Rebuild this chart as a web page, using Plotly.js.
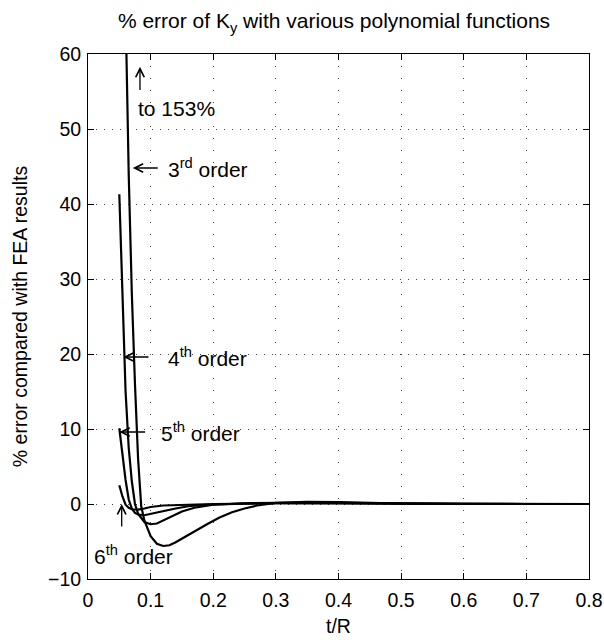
<!DOCTYPE html>
<html>
<head>
<meta charset="utf-8">
<script src="https://cdn.plot.ly/plotly-3.0.1.min.js"></script>
<style>html,body{margin:0;padding:0;background:#fff;}#chart{width:604px;height:640px;}</style>
</head>
<body>
<div id="chart"></div>
<script>
// t/R sample points and % error for each polynomial order
const tR3  = [0.05, 0.055, 0.06, 0.065, 0.07, 0.075, 0.08, 0.085, 0.09, 0.10, 0.11, 0.12, 0.13, 0.14, 0.15, 0.17, 0.19, 0.21, 0.23, 0.25, 0.27, 0.30, 0.35, 0.40, 0.45, 0.50, 0.60, 0.70, 0.80];
const err3 = [153, 100, 66, 44, 28, 16, 6, -0.3, -2.2, -4.3, -5.3, -5.6, -5.5, -5.1, -4.6, -3.6, -2.7, -1.8, -1.1, -0.6, -0.2, 0.15, 0.3, 0.25, 0.15, 0.05, 0, 0, 0];

const tR4  = [0.05, 0.055, 0.06, 0.065, 0.07, 0.075, 0.08, 0.09, 0.10, 0.11, 0.12, 0.13, 0.15, 0.17, 0.20, 0.25, 0.30, 0.35, 0.40, 0.50, 0.60, 0.70, 0.80];
const err4 = [41.3, 29, 15, 7.5, 3, 0, -1.3, -2.4, -2.7, -2.6, -2.2, -1.8, -1.0, -0.5, -0.1, 0.1, 0.2, 0.2, 0.15, 0.05, 0, 0, 0];

const tR5  = [0.05, 0.055, 0.06, 0.065, 0.07, 0.075, 0.08, 0.09, 0.10, 0.11, 0.12, 0.14, 0.16, 0.19, 0.25, 0.30, 0.40, 0.50, 0.60, 0.70, 0.80];
const err5 = [10.1, 6.3, 3.2, 0.6, -0.6, -1.2, -1.4, -1.5, -1.3, -1.1, -0.9, -0.6, -0.3, -0.1, 0.05, 0.1, 0.1, 0.05, 0, 0, 0];

const tR6  = [0.05, 0.055, 0.06, 0.065, 0.07, 0.08, 0.09, 0.10, 0.12, 0.15, 0.20, 0.30, 0.40, 0.50, 0.60, 0.70, 0.80];
const err6 = [2.5, 1.0, -0.1, -0.5, -0.7, -0.75, -0.6, -0.4, -0.2, -0.1, 0, 0.1, 0.1, 0.05, 0, 0, 0];

const xTicks = [0, 0.1, 0.2, 0.3, 0.4, 0.5, 0.6, 0.7, 0.8];
const yTicks = [-10, 0, 10, 20, 30, 40, 50, 60];

const FONT = "Liberation Sans, Arial, Helvetica, sans-serif";
const line = {color: "#000", width: 2.2};

const traces = [
  {x: tR3, y: err3, mode: "lines", line: line, name: "3rd order"},
  {x: tR4, y: err4, mode: "lines", line: line, name: "4th order"},
  {x: tR5, y: err5, mode: "lines", line: line, name: "5th order"},
  {x: tR6, y: err6, mode: "lines", line: line, name: "6th order"}
];

function arrow(xh, yh, xt, yt) {
  return {x: xh, y: yh, ax: xt, ay: yt, xref: "x", yref: "y", axref: "x", ayref: "y",
    text: "", showarrow: true, arrowhead: 5, arrowsize: 1.3, arrowwidth: 1.3, arrowcolor: "#000"};
}
function label(x, y, txt) {
  return {x: x, y: y, xref: "x", yref: "y", text: txt, showarrow: false,
    xanchor: "left", yanchor: "middle", font: {family: FONT, size: 21, color: "#000"}};
}

const layout = {
  width: 604, height: 640,
  margin: {l: 88, r: 15, t: 54, b: 61},
  paper_bgcolor: "#fff", plot_bgcolor: "#fff",
  showlegend: false,
  font: {family: FONT, size: 19.5, color: "#000"},
  title: {text: "% error of K<sub>y</sub> with various polynomial functions",
          font: {family: FONT, size: 21, color: "#000"}, x: 0.553, xanchor: "center", y: 0.967, yanchor: "middle"},
  xaxis: {
    range: [0, 0.8], tickvals: xTicks, ticktext: xTicks.map(String),
    showline: true, linecolor: "#000", linewidth: 1, mirror: "ticks",
    ticks: "inside", ticklen: 6, tickcolor: "#000",
    showgrid: true, gridcolor: "#444", gridwidth: 1, griddash: "1px,11px",
    zeroline: false, automargin: false, ticklabelstandoff: 4,
    tickfont: {family: FONT, size: 19.5, color: "#000"},
    title: {text: "t/R", font: {family: FONT, size: 19.5, color: "#000"}, standoff: 8}
  },
  yaxis: {
    range: [-10, 60], tickvals: yTicks,
    showline: true, linecolor: "#000", linewidth: 1, mirror: "ticks",
    ticks: "inside", ticklen: 6, tickcolor: "#000",
    showgrid: true, gridcolor: "#444", gridwidth: 1, griddash: "1px,7px",
    zeroline: false, automargin: false, ticklabelstandoff: 2,
    tickfont: {family: FONT, size: 19.5, color: "#000"},
    title: {text: "% error compared with FEA results", font: {family: FONT, size: 19.5, color: "#000"}, standoff: 15}
  },
  annotations: [
    arrow(0.083, 58.3, 0.083, 55.0),
    label(0.077, 52.8, "to 153%"),
    arrow(0.0714, 44.8, 0.1138, 44.8),
    label(0.124, 44.8, "3<sup>rd</sup> order"),
    arrow(0.0564, 19.6, 0.099, 19.6),
    label(0.124, 19.6, "4<sup>th</sup> order"),
    arrow(0.050, 9.6, 0.0937, 9.6),
    label(0.114, 9.6, "5<sup>th</sup> order"),
    arrow(0.0538, 0.0, 0.0538, -3.2),
    label(0.006, -6.8, "6<sup>th</sup> order")
  ]
};

Plotly.newPlot("chart", traces, layout, {displayModeBar: false, staticPlot: true});
</script>
</body>
</html>
